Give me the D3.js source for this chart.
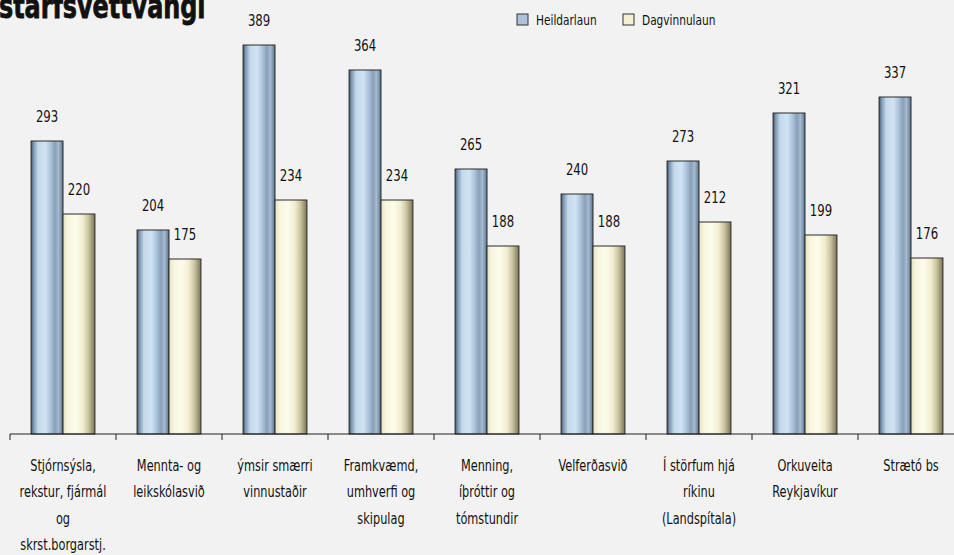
<!DOCTYPE html>
<html>
<head>
<meta charset="utf-8">
<script src="https://cdn.jsdelivr.net/npm/d3@7"></script>
<style>
  body { margin: 0; background: #f1f2f1; }
  svg { display: block; }
  text { font-family: "DejaVu Sans Condensed", "Liberation Sans Narrow", sans-serif; fill: #111; }
</style>
</head>
<body>
<div id="chart"></div>
<script>
const width = 954, height = 555;
const squeeze = 0.84; // the original font is a narrow one

// data
const categories = [
  ["Stjórnsýsla,", "rekstur, fjármál", "og", "skrst.borgarstj."],
  ["Mennta- og", "leikskólasvið"],
  ["ýmsir smærri", "vinnustaðir"],
  ["Framkvæmd,", "umhverfi og", "skipulag"],
  ["Menning,", "íþróttir og", "tómstundir"],
  ["Velferðasvið"],
  ["Í störfum hjá", "ríkinu", "(Landspítala)"],
  ["Orkuveita", "Reykjavíkur"],
  ["Strætó bs"]
];
const heildarlaun = [293, 204, 389, 364, 265, 240, 273, 321, 337];
const dagvinnulaun = [220, 175, 234, 234, 188, 188, 212, 199, 176];
const seriesNames = ["Heildarlaun", "Dagvinnulaun"];

const svg = d3.select("#chart").append("svg")
    .attr("width", width)
    .attr("height", height);

const defs = svg.append("defs");

function gradient(id, stops) {
    const g = defs.append("linearGradient").attr("id", id)
        .attr("x1", "0%").attr("x2", "100%").attr("y1", "0%").attr("y2", "0%");
    stops.forEach(s => g.append("stop").attr("offset", s[0]).attr("stop-color", s[1]));
}
gradient("gBlue", [
    ["0%", "#3f5670"], ["8%", "#7f99b3"], ["22%", "#c4daec"], ["45%", "#cfe3f3"],
    ["62%", "#a9c1d7"], ["75%", "#889fb7"], ["86%", "#a3bad0"], ["100%", "#5b7289"]
]);
gradient("gCream", [
    ["0%", "#e8e3c4"], ["15%", "#f8f5de"], ["40%", "#fdfbeb"], ["62%", "#f1edd0"],
    ["80%", "#c9c39f"], ["100%", "#7a7455"]
]);
const fills = ["url(#gBlue)", "url(#gCream)"];
const legendFills = ["#a9c4dc", "#f4f0d2"];

const x = d3.scaleBand()
    .domain(d3.range(categories.length))
    .range([10, 964])
    .paddingInner(0)
    .paddingOuter(0);

const xInner = d3.scaleBand()
    .domain([0, 1])
    .range([0, x.bandwidth()])
    .paddingOuter(0.66)
    .paddingInner(0);

const y = d3.scaleLinear()
    .domain([0, 400])
    .range([434, 34]);

// title (its top is cut off in the original too)
svg.append("text")
    .attr("transform", `translate(-1,18) scale(0.78,1)`)
    .style("font-size", "34px")
    .style("font-weight", "bold")
    .style("stroke", "#111")
    .style("stroke-width", 0.8)
    .text("starfsvettvangi");

// bars
const groups = svg.selectAll(".cat")
    .data(categories.map((c, i) => [heildarlaun[i], dagvinnulaun[i]]))
    .enter().append("g")
    .attr("class", "cat")
    .attr("transform", (d, i) => `translate(${x(i)},0)`);

groups.selectAll("rect")
    .data(d => d)
    .enter().append("rect")
    .attr("x", (d, j) => xInner(j))
    .attr("width", xInner.bandwidth())
    .attr("y", d => y(d))
    .attr("height", d => y(0) - y(d))
    .attr("fill", (d, j) => fills[j])
    .attr("stroke", "#2b2b2b")
    .attr("stroke-width", 1);

groups.selectAll(".val")
    .data(d => d)
    .enter().append("text")
    .attr("class", "val")
    .attr("transform", (d, j) =>
        `translate(${xInner(j) + xInner.bandwidth() / 2},${y(d) - 19.5}) scale(${squeeze},1)`)
    .attr("text-anchor", "middle")
    .style("font-size", "15.5px")
    .text(d => d);

// x axis
const axis = svg.append("g").attr("transform", `translate(0,${y(0)})`);
axis.append("line")
    .attr("x1", 10).attr("x2", width)
    .attr("stroke", "#222").attr("stroke-width", 1.2);
axis.selectAll(".tick")
    .data(d3.range(categories.length + 1))
    .enter().append("line")
    .attr("x1", i => i < categories.length ? x(i) : 964)
    .attr("x2", i => i < categories.length ? x(i) : 964)
    .attr("y1", 0).attr("y2", 6)
    .attr("stroke", "#222");

axis.selectAll(".lbl")
    .data(categories)
    .enter().append("text")
    .attr("class", "lbl")
    .attr("text-anchor", "middle")
    .attr("transform", (d, i) => `translate(${x(i) + x.bandwidth() / 2},37) scale(${squeeze},1)`)
    .style("font-size", "15px")
    .each(function (lines) {
        d3.select(this).selectAll("tspan")
            .data(lines)
            .enter().append("tspan")
            .attr("x", 0)
            .attr("dy", (l, k) => k === 0 ? 0 : 26.5)
            .text(l => l);
    });

// legend
const legend = svg.append("g").attr("transform", "translate(517,14)");
const legendX = [0, 106];
seriesNames.forEach((name, i) => {
    legend.append("rect")
        .attr("x", legendX[i]).attr("y", 0)
        .attr("width", 11).attr("height", 11)
        .attr("fill", legendFills[i])
        .attr("stroke", "#333");
    legend.append("text")
        .attr("transform", `translate(${legendX[i] + 19},10.5) scale(${squeeze},1)`)
        .style("font-size", "14px")
        .text(name);
});
</script>
</body>
</html>
